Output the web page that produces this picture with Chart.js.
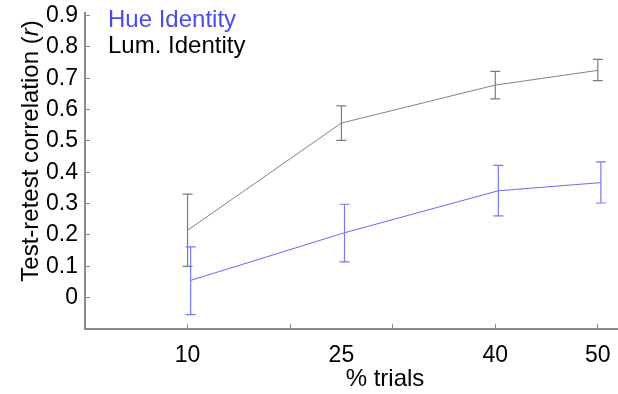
<!DOCTYPE html>
<html>
<head>
<meta charset="utf-8">
<script src="https://cdn.jsdelivr.net/npm/chart.js@4.4.1/dist/chart.umd.min.js"></script>
<style>
  html, body { margin: 0; padding: 0; background: #fff; overflow: hidden; }
  #wrap { width: 618px; height: 394px; overflow: hidden; }
</style>
</head>
<body>
<div id="wrap"><canvas id="chart" width="685" height="394"></canvas></div>
<script>
// % of trials in each half of the split
const trialPct = [10, 25, 40, 50];

// hue identity: mean r and error bar ends
const hueMean = [0.055, 0.207, 0.341, 0.367];
const hueLow  = [-0.054, 0.114, 0.261, 0.302];
const hueHigh = [0.162, 0.298, 0.422, 0.433];

// luminance identity: mean r and error bar ends
const lumMean = [0.215, 0.557, 0.678, 0.725];
const lumLow  = [0.100, 0.502, 0.634, 0.692];
const lumHigh = [0.330, 0.612, 0.722, 0.760];

// axis ticks
const xTickMarks = [10, 20, 30, 40, 50];
const xTickLabels = [10, 25, 40, 50];
const yTicks = [0, 0.1, 0.2, 0.3, 0.4, 0.5, 0.6, 0.7, 0.8, 0.9];

const yTitleParts = ['Test-retest correlation (', 'r', ')'];
const xTitle = '% trials';

const HUE_SHIFT = 0.3; // nudge hue points right so the bars don't sit on top of each other
const FONT = '"Liberation Sans", Arial, sans-serif';
const AXIS_GREY = '#8a8a8a';

Chart.defaults.font.family = FONT;

function points(xs, mean, lo, hi, shift) {
  return xs.map((x, i) => ({ x: x + shift, y: mean[i], lo: lo[i], hi: hi[i] }));
}

// vertical error bars with small caps
const errorBars = {
  id: 'errorBars',
  afterDatasetsDraw(chart) {
    const { ctx, scales: { x, y } } = chart;
    chart.data.datasets.forEach(ds => {
      ctx.save();
      ctx.strokeStyle = ds.barColor;
      ctx.lineWidth = 1.2;
      ds.data.forEach(p => {
        const px = x.getPixelForValue(p.x);
        const top = y.getPixelForValue(p.hi);
        const bot = y.getPixelForValue(p.lo);
        ctx.beginPath();
        ctx.moveTo(px, top); ctx.lineTo(px, bot);
        ctx.moveTo(px - 5, top); ctx.lineTo(px + 5, top);
        ctx.moveTo(px - 5, bot); ctx.lineTo(px + 5, bot);
        ctx.stroke();
      });
      ctx.restore();
    });
  }
};

// text-only legend in the top left corner
const textLegend = {
  id: 'textLegend',
  afterDraw(chart) {
    const ctx = chart.ctx;
    ctx.save();
    ctx.font = '24px ' + FONT;
    ctx.textBaseline = 'alphabetic';
    ctx.textAlign = 'left';
    chart.data.datasets.slice().reverse().forEach((ds, i) => {
      ctx.fillStyle = ds.legendColor;
      ctx.fillText(ds.label, 108, 27 + i * 26);
    });
    ctx.restore();
  }
};

// rotated y title with an italic r
const yTitle = {
  id: 'yTitle',
  afterDraw(chart) {
    const ctx = chart.ctx;
    const fonts = ['24px ' + FONT, 'italic 24px ' + FONT, '24px ' + FONT];
    ctx.save();
    ctx.translate(38, 151);
    ctx.rotate(-Math.PI / 2);
    ctx.fillStyle = '#000';
    ctx.textBaseline = 'alphabetic';
    ctx.textAlign = 'left';
    let total = 0;
    const widths = yTitleParts.map((t, i) => {
      ctx.font = fonts[i];
      const w = ctx.measureText(t).width;
      total += w;
      return w;
    });
    let cx = -total / 2;
    yTitleParts.forEach((t, i) => {
      ctx.font = fonts[i];
      ctx.fillText(t, cx, 0);
      cx += widths[i];
    });
    ctx.restore();
  }
};

new Chart(document.getElementById('chart'), {
  type: 'line',
  data: {
    datasets: [
      {
        label: 'Lum. Identity',
        data: points(trialPct, lumMean, lumLow, lumHigh, 0),
        borderColor: '#808080',
        borderWidth: 1,
        barColor: '#7c7c7c',
        legendColor: '#000000',
        pointRadius: 0,
        tension: 0
      },
      {
        label: 'Hue Identity',
        data: points(trialPct, hueMean, hueLow, hueHigh, HUE_SHIFT),
        borderColor: '#6a6af5',
        borderWidth: 1,
        barColor: '#7878f7',
        legendColor: '#4b4bf0',
        pointRadius: 0,
        tension: 0
      }
    ]
  },
  options: {
    responsive: false,
    animation: false,
    layout: { padding: { top: 13, left: 0, right: 0, bottom: 0 } },
    plugins: { legend: { display: false }, tooltip: { enabled: false } },
    scales: {
      x: {
        type: 'linear',
        min: 0,
        max: 58.5,
        afterBuildTicks: s => {
          const vals = [...new Set([...xTickMarks, ...xTickLabels])].sort((a, b) => a - b);
          s.ticks = vals.map(v => ({ value: v }));
        },
        afterFit: s => { s.height = 65; s.paddingLeft = 0; s.paddingRight = 0; },
        border: { color: AXIS_GREY, width: 2 },
        grid: {
          drawOnChartArea: false,
          tickLength: -5,
          tickWidth: 1,
          tickColor: c => (c.tick && xTickMarks.includes(c.tick.value)) ? AXIS_GREY : 'rgba(0,0,0,0)'
        },
        ticks: {
          autoSkip: false,
          maxRotation: 0,
          color: '#000',
          font: { size: 23 },
          padding: 18,
          callback: v => xTickLabels.includes(v) ? String(v) : ''
        },
        title: {
          display: true,
          text: xTitle,
          color: '#000',
          font: { size: 24 },
          padding: { top: 0, bottom: 0 }
        }
      },
      y: {
        type: 'linear',
        min: -0.1,
        max: 0.908,
        afterBuildTicks: s => { s.ticks = yTicks.map(v => ({ value: v })); },
        afterFit: s => { s.width = 85; s.paddingTop = 0; s.paddingBottom = 0; },
        border: { color: AXIS_GREY, width: 2 },
        grid: { drawOnChartArea: false, tickLength: -5, tickWidth: 1, tickColor: AXIS_GREY },
        ticks: {
          color: '#000',
          font: { size: 23 },
          padding: 12,
          callback: v => v === 0 ? '0' : v.toFixed(1)
        }
      }
    }
  },
  plugins: [errorBars, textLegend, yTitle]
});
</script>
</body>
</html>
